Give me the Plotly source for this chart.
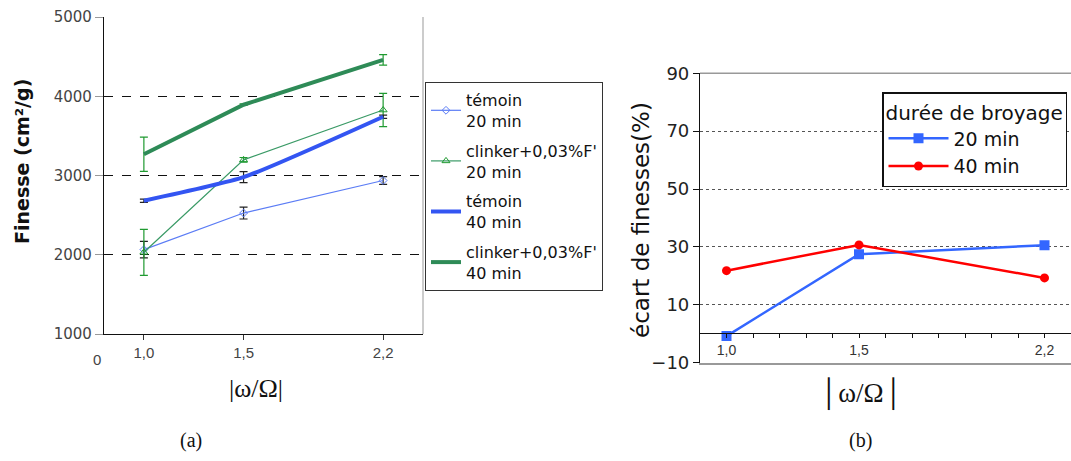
import plotly.graph_objects as go

# ---------------- data ----------------
ratio = [1.0, 1.5, 2.2]
ratio_labels = ["1,0", "1,5", "2,2"]

temoin20 = [2065, 2526, 2937]
temoin20_err = [105, 75, 50]
clinker20 = [2031, 3197, 3826]
clinker20_err = [290, 30, 210]
temoin40 = [2682, 2979, 3742]
temoin40_err = [20, 70, 20]
clinker40 = [3268, 3893, 4459]
clinker40_err = [215, 10, 65]

ecart20 = [-0.8, 27.5, 30.6]
ecart40 = [21.8, 30.7, 19.3]

left_yticks = [1000, 2000, 3000, 4000, 5000]
right_yticks = [-10, 10, 30, 50, 70, 90]

W, H = 1071, 461
SANS = "DejaVu Sans"
SERIF = "Liberation Serif"

fig = go.Figure()

# ---------------- left chart ----------------
def err(v, c):
    return dict(type="data", array=v, color=c, thickness=1.2, width=4, visible=True)

fig.add_trace(go.Scatter(x=ratio, y=temoin20, mode="lines+markers", name="témoin<br>20 min",
                         line=dict(color="#5b7cf5", width=1.2),
                         marker=dict(symbol="diamond-open", size=6, color="#5b7cf5"),
                         error_y=err(temoin20_err, "#222222"),
                         xaxis="x", yaxis="y", legend="legend", legendgroup="a"))
fig.add_trace(go.Scatter(x=ratio, y=clinker20, mode="lines+markers", name="clinker+0,03%F'<br>20 min",
                         line=dict(color="#3a9a66", width=1.2),
                         marker=dict(symbol="triangle-up-open", size=7, color="#1f9a30"),
                         error_y=err(clinker20_err, "#1f9a30"),
                         xaxis="x", yaxis="y", legend="legend", legendgroup="b"))
fig.add_trace(go.Scatter(x=ratio, y=temoin40, mode="lines", name="témoin<br>40 min",
                         line=dict(color="#3355f2", width=4, shape="spline", smoothing=0.5),
                         error_y=err(temoin40_err, "#222222"),
                         xaxis="x", yaxis="y", legend="legend", legendgroup="c"))
fig.add_trace(go.Scatter(x=ratio, y=clinker40, mode="lines", name="clinker+0,03%F'<br>40 min",
                         line=dict(color="#2e8b57", width=4),
                         error_y=err(clinker40_err, "#1f9a30"),
                         xaxis="x", yaxis="y", legend="legend", legendgroup="d"))

# ---------------- right chart ----------------
fig.add_trace(go.Scatter(x=ratio, y=ecart20, mode="lines+markers", name="20 min",
                         line=dict(color="#3366ff", width=2.5),
                         marker=dict(symbol="square", size=10, color="#3366ff"),
                         xaxis="x2", yaxis="y2", legend="legend2"))
fig.add_trace(go.Scatter(x=ratio, y=ecart40, mode="lines+markers", name="40 min",
                         line=dict(color="#ff0000", width=2.5),
                         marker=dict(symbol="circle", size=9, color="#ff0000"),
                         xaxis="x2", yaxis="y2", legend="legend2"))
# invisible trace carried by the axis that crosses at y = 0
fig.add_trace(go.Scatter(x=ratio, y=ecart20, mode="lines", line=dict(width=0), opacity=0,
                         showlegend=False, hoverinfo="skip", xaxis="x3", yaxis="y2"))

lx0, lx1 = 104 / W, 423 / W
ly0, ly1 = 1 - 334 / H, 1 - 17 / H
rx0, rx1 = 700 / W, 1.0
ry0, ry1 = 1 - 362.7 / H, 1 - 73.3 / H

fine_ticks = [round(1.0 + 0.1 * i, 1) for i in range(13)]
fine_text = [ratio_labels[ratio.index(t)] if t in ratio else "" for t in fine_ticks]

fig.update_layout(
    width=W, height=H, margin=dict(l=0, r=0, t=0, b=0, autoexpand=False),
    paper_bgcolor="white", plot_bgcolor="white",
    xaxis=dict(domain=[lx0, lx1], anchor="y", range=[0.8, 2.4], tickvals=ratio, ticktext=ratio_labels,
               showgrid=False, zeroline=False, showline=True, linecolor="#111111", linewidth=1.2,
               ticks="outside", ticklen=5, tickcolor="#333333",
               tickfont=dict(family="Arial", size=15, color="#444444")),
    yaxis=dict(domain=[ly0, ly1], anchor="x", range=[1000, 5000], tickvals=left_yticks,
               showgrid=False, zeroline=False, showline=True, linecolor="#111111", linewidth=1.2,
               ticks="outside", ticklen=8, tickcolor="#999999",
               tickfont=dict(family=SANS, size=15, color="#444444"),
               minor=dict(tickvals=[2000, 3000, 4000], showgrid=True, griddash="dash",
                          gridcolor="#111111", gridwidth=1, ticks="")),
    xaxis2=dict(domain=[rx0, rx1], anchor="y2", range=[0.9, 2.3], showticklabels=False, ticks="",
                showgrid=False, zeroline=False, showline=True, linecolor="#999999", linewidth=1.5),
    xaxis3=dict(overlaying="x2", anchor="free", position=1 - 333.3 / H, range=[0.9, 2.3],
                tickvals=fine_ticks, ticktext=fine_text, ticks="outside", ticklen=4, tickcolor="#111111",
                showgrid=False, zeroline=False, showline=True, linecolor="#111111", linewidth=1.2,
                tickfont=dict(family="Arial", size=14, color="#333333"), side="bottom"),
    yaxis2=dict(domain=[ry0, ry1], anchor="x2", range=[-10, 90], tickvals=right_yticks,
                showgrid=False, zeroline=False, showline=True, linecolor="#111111", linewidth=1.2,
                ticks="outside", ticklen=6, tickcolor="#111111",
                tickfont=dict(family=SANS, size=18, color="#222222"),
                minor=dict(tickvals=[10, 30, 50, 70], showgrid=True, griddash="dot",
                           gridcolor="#555555", gridwidth=1.3, ticks="")),
    legend=dict(x=425 / W, y=1 - 82 / H, xanchor="left", yanchor="top",
                bordercolor="#333333", borderwidth=1, bgcolor="white",
                font=dict(family=SANS, size=16, color="#111111"),
                tracegroupgap=6, itemwidth=30),
    legend2=dict(x=882 / W, y=1 - 92 / H, xanchor="left", yanchor="top",
                 bordercolor="#111111", borderwidth=1.5, bgcolor="white",
                 title=dict(text="durée de broyage", font=dict(family=SANS, size=20, color="#111111")),
                 font=dict(family=SANS, size=19, color="#111111"), itemwidth=60),
    shapes=[dict(type="line", xref="paper", yref="paper", x0=lx1, x1=lx1, y0=ly0, y1=ly1,
                 line=dict(color="#aaaaaa", width=1.2)),
            dict(type="line", xref="paper", yref="paper", x0=rx0, x1=rx1, y0=ry1, y1=ry1,
                 line=dict(color="#999999", width=1.5))],
    annotations=[
        dict(text="<b>Finesse (cm²/g)</b>", xref="paper", yref="paper", x=22 / W, y=1 - 162 / H, textangle=-90,
             showarrow=False, font=dict(family=SANS, size=19, color="#111111"), xanchor="center", yanchor="middle"),
        dict(text="0", xref="paper", yref="paper", x=97 / W, y=1 - 359 / H, showarrow=False,
             font=dict(family="Arial", size=15, color="#444444"), xanchor="center", yanchor="middle"),
        dict(text="|ω/Ω|", xref="paper", yref="paper", x=256 / W, y=1 - 388 / H, showarrow=False,
             font=dict(family=SERIF, size=26, color="#111111"), xanchor="center", yanchor="middle"),
        dict(text="(a)", xref="paper", yref="paper", x=191 / W, y=1 - 440 / H, showarrow=False,
             font=dict(family=SERIF, size=20, color="#111111"), xanchor="center", yanchor="middle"),
        dict(text="écart de finesses(%)", xref="paper", yref="paper", x=641 / W, y=1 - 220 / H, textangle=-90,
             showarrow=False, font=dict(family=SANS, size=23, color="#111111"), xanchor="center", yanchor="middle"),
        dict(text="│ω/Ω│", xref="paper", yref="paper", x=861 / W, y=1 - 394 / H, showarrow=False,
             font=dict(family=SERIF, size=27, color="#111111"), xanchor="center", yanchor="middle"),
        dict(text="(b)", xref="paper", yref="paper", x=860 / W, y=1 - 440 / H, showarrow=False,
             font=dict(family=SERIF, size=20, color="#111111"), xanchor="center", yanchor="middle"),
    ],
)

fig.write_html("out.html", config={"displayModeBar": False},
               post_script="document.body.style.margin='0';document.body.style.overflow='hidden';")
